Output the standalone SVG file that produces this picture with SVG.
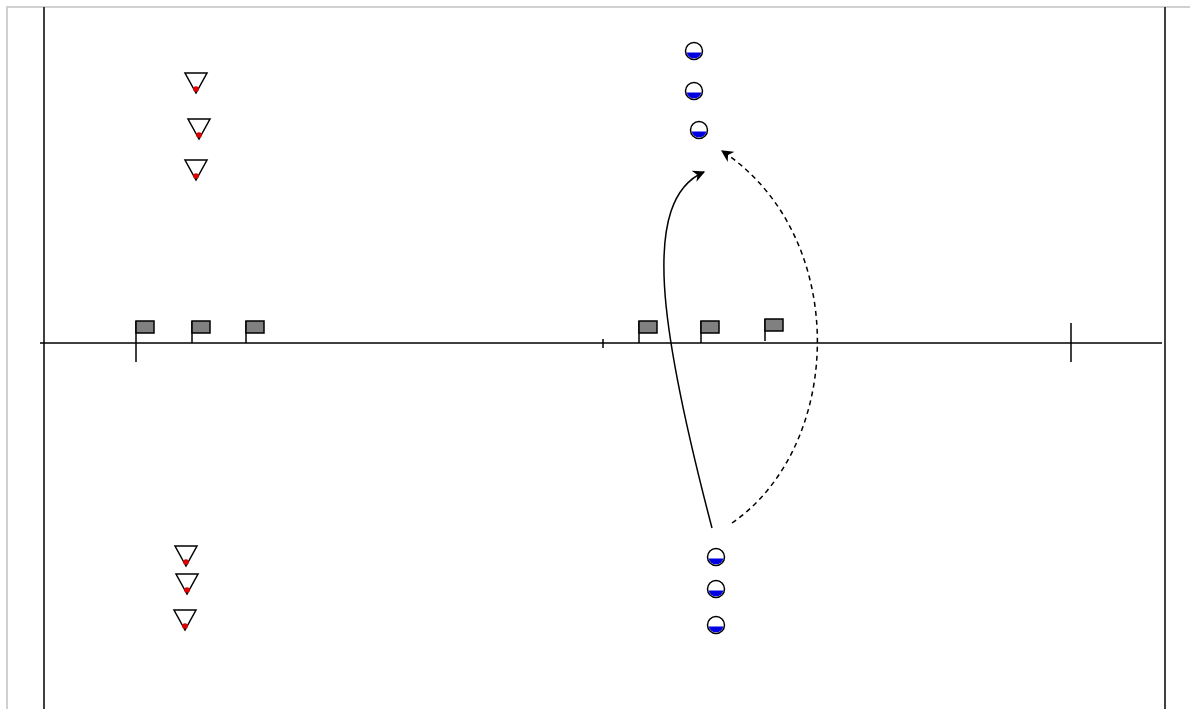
<svg xmlns="http://www.w3.org/2000/svg" width="1190" height="709" viewBox="0 0 1190 709">
<style>
.frame{stroke:#d0d0d0;stroke-width:2;fill:none}
.wall{stroke:#404040;stroke-width:2;fill:none}
.line{stroke:#000;stroke-width:1.5;fill:none}
.flag{fill:#808080;stroke:#000;stroke-width:1.5}
.tri{fill:#fff;stroke:#000;stroke-width:1.5}
.dot{fill:#e00000}
.cir{fill:#fff;stroke:#000;stroke-width:1.5}
.half{fill:#0000e0}
.path{stroke:#000;stroke-width:1.5;fill:none}
</style>
<defs>
<marker id="ah" viewBox="0 0 10 10" refX="9" refY="5" markerWidth="12" markerHeight="12" markerUnits="userSpaceOnUse" orient="auto">
<path d="M0,0 L10,5 L0,10 L3,5 Z" fill="#000"/>
</marker>
<g id="triangle">
<path class="tri" d="M-11,-10 L11,-10 L0,10 Z"/>
<circle class="dot" cx="0" cy="6" r="2.8"/>
</g>
<g id="player">
<circle class="cir" cx="0" cy="0" r="8.5"/>
<path class="half" d="M-7.3,1.5 L7.3,1.5 A7.5,7.5 0 0 1 -7.3,1.5 Z"/>
</g>
<g id="flagshape">
<path class="line" d="M0,0 L0,22"/>
<rect class="flag" x="0" y="0" width="18" height="12"/>
</g>
</defs>
<rect x="0" y="0" width="1190" height="709" fill="#fff"/>
<g id="frame">
<path class="frame" d="M7,709 L7,7 L1190,7"/>
<path class="wall" d="M44,7 L44,709"/>
<path class="wall" d="M1165,7 L1165,709"/>
<path class="line" d="M40,343 L1162,343"/>
<path class="line" d="M136,343 L136,362"/>
<path class="line" d="M603,339 L603,348"/>
<path class="line" d="M1071,323 L1071,362"/>
</g>
<g id="flags">
<use href="#flagshape" x="136" y="321"/>
<use href="#flagshape" x="192" y="321"/>
<use href="#flagshape" x="246" y="321"/>
<use href="#flagshape" x="639" y="321"/>
<use href="#flagshape" x="701" y="321"/>
<use href="#flagshape" x="765" y="319"/>
</g>
<g id="triangles-top">
<use href="#triangle" x="196" y="83"/>
<use href="#triangle" x="199" y="129"/>
<use href="#triangle" x="196" y="170"/>
</g>
<g id="triangles-bottom">
<use href="#triangle" x="186" y="556"/>
<use href="#triangle" x="187" y="584"/>
<use href="#triangle" x="185" y="620"/>
</g>
<g id="players-top">
<use href="#player" x="694" y="51"/>
<use href="#player" x="694" y="91"/>
<use href="#player" x="699" y="130"/>
</g>
<g id="players-bottom">
<use href="#player" x="716" y="557"/>
<use href="#player" x="716" y="589"/>
<use href="#player" x="716" y="625"/>
</g>
<g id="connectors">
<path class="path" d="M712,528 C660,330 640,200 704,172" marker-end="url(#ah)"/>
<path class="path" stroke-dasharray="5,4" d="M732,523 C845,445 850,235 722,151" marker-end="url(#ah)"/>
</g>
</svg>
